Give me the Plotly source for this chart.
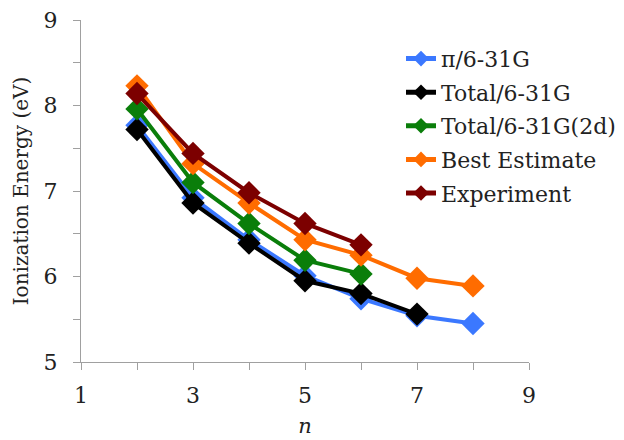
import plotly.graph_objects as go

n_values = [2, 3, 4, 5, 6, 7, 8]
pi_631g = [7.77, 6.92, 6.43, 6.01, 5.74, 5.54, 5.45]
total_631g = [7.72, 6.86, 6.39, 5.95, 5.80, 5.56]
total_631g_2d = [7.96, 7.10, 6.62, 6.19, 6.03]
best_estimate = [8.23, 7.32, 6.86, 6.43, 6.25, 5.98, 5.89]
experiment = [8.14, 7.44, 6.98, 6.62, 6.37]

series = [
    ("π/6-31G", pi_631g, "#3b78ff"),
    ("Total/6-31G", total_631g, "#000000"),
    ("Total/6-31G(2d)", total_631g_2d, "#0a7e0a"),
    ("Best Estimate", best_estimate, "#ff6c00"),
    ("Experiment", experiment, "#7c0000"),
]

FONT = "DejaVu Serif"

fig = go.Figure()
for name, vals, color in series:
    fig.add_trace(go.Scatter(
        x=n_values[:len(vals)], y=vals, name=name, legendgroup=name,
        mode="lines+markers",
        line=dict(color=color, width=4),
        marker=dict(symbol="diamond", size=18, color=color),
    ))

axis_common = dict(
    showline=True, linecolor="#a0a0a0", linewidth=1.3,
    ticks="outside", ticklen=7, tickcolor="#a0a0a0", tickwidth=1.3,
    showgrid=False, zeroline=False, automargin=False,
    ticklabeloverflow="allow",
    tickfont=dict(family=FONT, size=22, color="#222"),
)

fig.update_layout(
    width=624, height=440,
    margin=dict(l=73, r=102, t=12, b=86),
    paper_bgcolor="white", plot_bgcolor="white",
    font=dict(family=FONT, size=20, color="#222"),
    xaxis=dict(range=[1, 9], dtick=2, tick0=1, ticklabelstandoff=6,
               minor=dict(dtick=1, ticks="outside", ticklen=7, tickcolor="#a0a0a0", tickwidth=1.3),
               title=dict(text="<i>n</i>", font=dict(family=FONT, size=21), standoff=11),
               **axis_common),
    yaxis=dict(range=[5, 9], dtick=1, tick0=5, ticklabelstandoff=11,
               minor=dict(dtick=0.5, ticks="outside", ticklen=7, tickcolor="#a0a0a0", tickwidth=1.3),
               title=dict(text="Ionization Energy (eV)", font=dict(family=FONT, size=20), standoff=9),
               **axis_common),
    legend=dict(x=0.7127, y=0.948, xanchor="left", yanchor="top",
                font=dict(family=FONT, size=22, color="#222"),
                itemsizing="constant",
                bgcolor="rgba(255,255,255,0)", tracegroupgap=2),
    showlegend=True,
)

fig.write_html("out.html")
